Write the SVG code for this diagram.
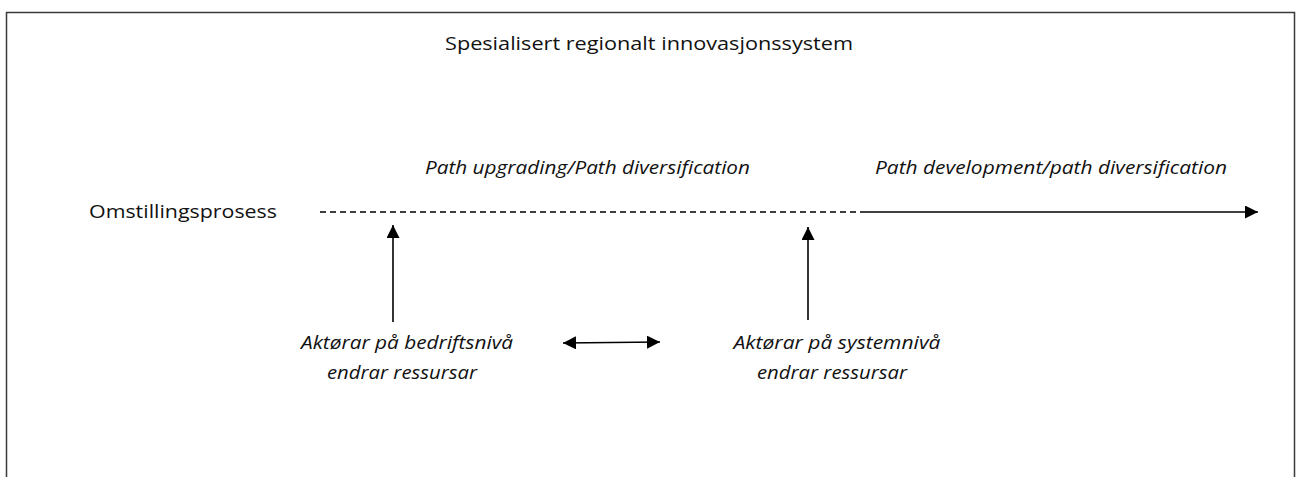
<svg xmlns="http://www.w3.org/2000/svg" width="1299" height="477" viewBox="0 0 1299 477">
  <defs>
    <marker id="head" viewBox="0 0 10 10" refX="10" refY="5" markerWidth="13" markerHeight="13" markerUnits="userSpaceOnUse" orient="auto-start-reverse">
      <path d="M0,0 L10,5 L0,10 Z" fill="#000"/>
    </marker>
    <style>
      .lbl { font-family: "Open Sans", "Liberation Sans", sans-serif; font-size: 19px; fill: #111; }
      .it { font-style: italic; }
      .frame { fill: none; stroke: #3a3a3a; stroke-width: 1.5; }
      .conn { fill: none; stroke: #000; stroke-width: 1.6; }
    </style>
  </defs>
  <rect width="1299" height="477" fill="#fff"/>

  <!-- open frame: top, left and right sides -->
  <path class="frame" d="M6.5,477 V12.5 H1294.5 V477"/>

  <g id="title">
    <text class="lbl" x="445" y="50" textLength="408" lengthAdjust="spacingAndGlyphs">Spesialisert regionalt innovasjonssystem</text>
  </g>

  <g id="phase-upgrading">
    <text class="lbl it" x="425" y="174" textLength="325" lengthAdjust="spacingAndGlyphs">Path upgrading/Path diversification</text>
  </g>

  <g id="phase-development">
    <text class="lbl it" x="875" y="174" textLength="352" lengthAdjust="spacingAndGlyphs">Path development/path diversification</text>
  </g>

  <g id="process">
    <text class="lbl" x="89" y="218" textLength="188" lengthAdjust="spacingAndGlyphs">Omstillingsprosess</text>
  </g>

  <g id="firm-actors">
    <text class="lbl it" x="407" y="349" text-anchor="middle" textLength="212" lengthAdjust="spacingAndGlyphs">Aktørar på bedriftsnivå</text>
    <text class="lbl it" x="402" y="379" text-anchor="middle" textLength="150" lengthAdjust="spacingAndGlyphs">endrar ressursar</text>
  </g>

  <g id="system-actors">
    <text class="lbl it" x="837" y="349" text-anchor="middle" textLength="207" lengthAdjust="spacingAndGlyphs">Aktørar på systemnivå</text>
    <text class="lbl it" x="832" y="379" text-anchor="middle" textLength="150" lengthAdjust="spacingAndGlyphs">endrar ressursar</text>
  </g>

  <g id="connectors">
    <!-- process timeline: dashed early phase, solid later phase -->
    <line class="conn" x1="320" y1="212" x2="865" y2="212" stroke-dasharray="6 4" stroke-width="1.3"/>
    <line class="conn" x1="865" y1="212" x2="1258" y2="212" marker-end="url(#head)"/>
    <!-- actors acting on the process -->
    <line class="conn" x1="393" y1="322" x2="393" y2="225" marker-end="url(#head)"/>
    <line class="conn" x1="808" y1="320" x2="808" y2="227" marker-end="url(#head)"/>
    <!-- interaction between firm and system level -->
    <line class="conn" x1="563" y1="343" x2="660" y2="342" marker-start="url(#head)" marker-end="url(#head)"/>
  </g>
</svg>
